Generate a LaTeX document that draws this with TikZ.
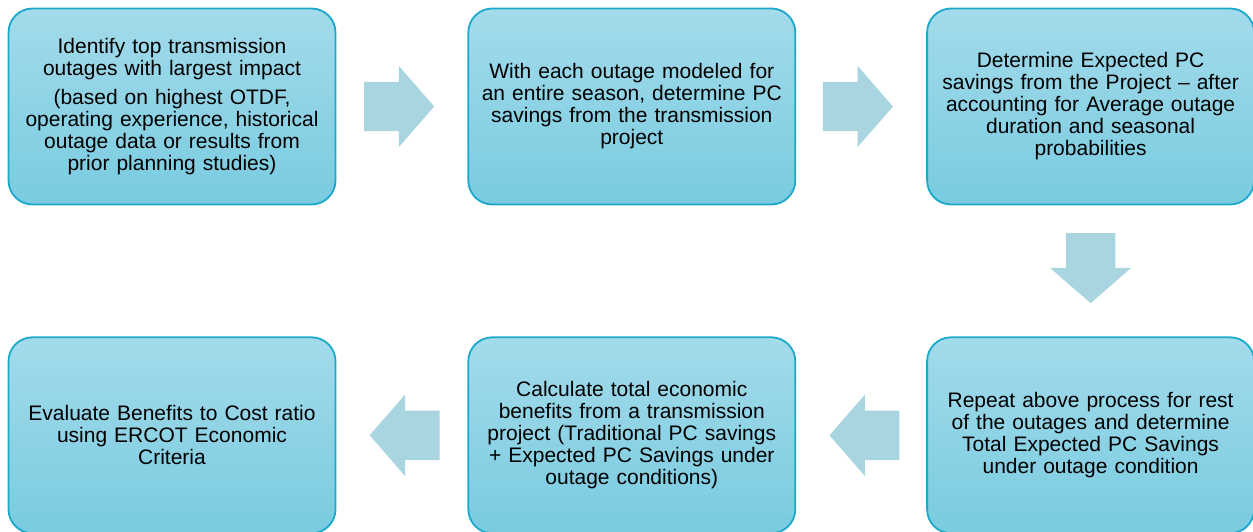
\documentclass[tikz,border=0pt]{standalone}
\usepackage{fontspec}
\setmainfont{Liberation Sans}
\usetikzlibrary{positioning,shapes.arrows,calc}

\definecolor{boxtop}{HTML}{A3DBEB}
\definecolor{boxbottom}{HTML}{79CBE0}
\definecolor{boxline}{HTML}{1AA9CA}
\definecolor{arrowfill}{HTML}{A9D5E1}

\begin{document}
\begin{tikzpicture}[x=1pt,y=-1pt]
        \tikzstyle{procbox}=[draw=boxline, line width=1.8pt, rounded corners=24pt,
                top color=boxtop, bottom color=boxbottom,
                minimum width=327pt, minimum height=196pt, inner sep=0pt,
                text width=320pt, align=center,
                font=\fontsize{21}{22}\selectfont]
        \tikzstyle{flowarrow}=[single arrow, fill=arrowfill, draw=none,
                minimum height=70pt, minimum width=81pt,
                inner xsep=0pt, inner ysep=24.5pt, anchor=tip,
                single arrow head extend=16pt, single arrow tip angle=98]

        \useasboundingbox (0,0) rectangle (1253,532);

        \node (identify) [procbox] at (172,106.5)
            {Identify top transmission\\ outages with largest impact\\[7pt]
             (based on highest OTDF,\\ operating experience, historical\\
             outage data or results from\\ prior planning studies)};
        \node (season)   [procbox, right=131pt of identify]
            {With each outage modeled for\\ an entire season, determine PC\\
             savings from the transmission\\ project};
        \node (expected) [procbox, right=130pt of season]
            {Determine Expected PC\\ savings from the Project -- after\\
             accounting for Average outage\\ duration and seasonal\\ probabilities};
        \node (repeat)   [procbox, below=131pt of expected]
            {Repeat above process for rest\\ of the outages and determine\\
             Total Expected PC Savings\\ under outage condition};
        \node (total)    [procbox, left=130pt of repeat]
            {Calculate total economic\\ benefits from a transmission\\
             project (Traditional PC savings\\ + Expected PC Savings under\\
             outage conditions)};
        \node (evaluate) [procbox, left=131pt of total]
            {Evaluate Benefits to Cost ratio\\ using ERCOT Economic\\ Criteria};

        % arrow tips sit 33pt short of the next box
        \node (a1) [flowarrow] at ($(season.west)+(-33,0)$) {};
        \node (a2) [flowarrow] at ($(expected.west)+(-33,0)$) {};
        \node (a3) [flowarrow, rotate=-90] at ($(repeat.north)+(0,-33)$) {};
        \node (a4) [flowarrow, rotate=180] at ($(total.east)+(33,0)$) {};
        \node (a5) [flowarrow, rotate=180] at ($(evaluate.east)+(33,0)$) {};

    \end{tikzpicture}
\end{document}
